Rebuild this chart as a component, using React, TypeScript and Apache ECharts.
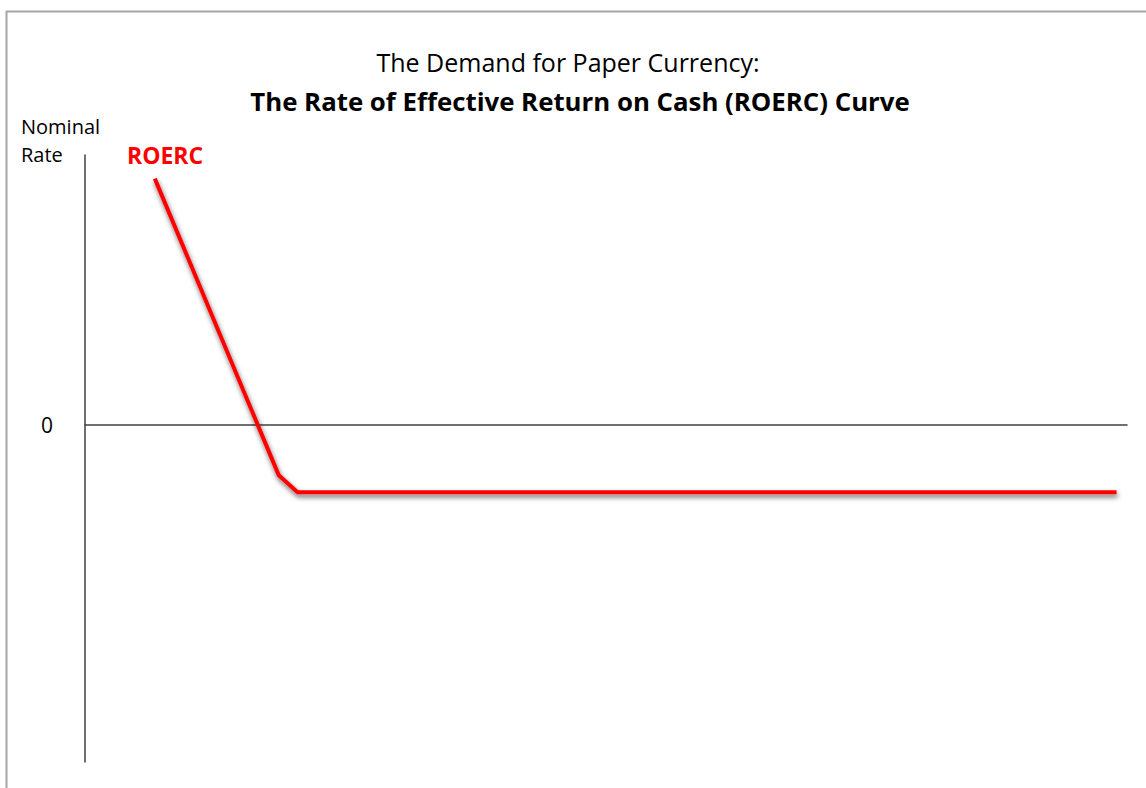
import React, { useEffect, useRef } from "react";
import * as echarts from "echarts";

const titleLine1 = "The Demand for Paper Currency:";
const titleLine2 = "The Rate of Effective Return on Cash (ROERC) Curve";
const seriesName = "ROERC";
const yAxisName = ["Nominal", "Rate"];
const roercX = [6.7, 18.6, 20.4, 99];
const roercY = [7.3, -1.5, -2, -2];
const yTickShown = [0];

export default function App() {
  const ref = useRef<HTMLDivElement>(null);
  useEffect(() => {
    document.body.style.margin = "0";
    const chart = echarts.init(ref.current!, null, { renderer: "svg" });
    const font = "'Open Sans', 'Liberation Sans', sans-serif";
    chart.setOption({
      animation: false,
      backgroundColor: "#ffffff",
      title: [
        {
          text: titleLine1,
          left: 563,
          textAlign: "center",
          top: 44,
          textStyle: { fontFamily: font, fontSize: 25, fontWeight: "normal", color: "#000" },
        },
        {
          text: titleLine2,
          left: 575,
          textAlign: "center",
          top: 83,
          textStyle: { fontFamily: font, fontSize: 25.8, fontWeight: "bold", color: "#000" },
        },
      ],
      grid: { left: 85, right: 19, top: 155, bottom: 26 },
      xAxis: {
        type: "value",
        min: 0,
        max: 100,
        axisLine: { show: true, onZero: true, lineStyle: { color: "#404040", width: 1.5 } },
        axisTick: { show: false },
        axisLabel: { show: false },
        splitLine: { show: false },
      },
      yAxis: {
        type: "value",
        min: -10,
        max: 8,
        interval: 2,
        axisLine: { show: true, onZero: false, lineStyle: { color: "#404040", width: 1.5 } },
        axisTick: { show: false },
        axisLabel: {
          margin: 32,
          fontFamily: font,
          fontSize: 21,
          color: "#000",
          formatter: (v: number) => (yTickShown.includes(v) ? String(v) : ""),
        },
        splitLine: { show: false },
      },
      graphic: [
        {
          type: "rect",
          shape: { x: 6.5, y: 11.5, width: 1200, height: 900 },
          style: { fill: "none", stroke: "#a6a6a6", lineWidth: 2 },
          silent: true,
        },
        {
          type: "text",
          left: 21,
          top: 112,
          style: {
            text: yAxisName.join("\n"),
            fontFamily: font,
            fontSize: 20,
            lineHeight: 28,
            fill: "#000",
          },
        },
        {
          type: "text",
          left: 127,
          top: 143,
          style: {
            text: seriesName,
            fontFamily: font,
            fontSize: 23,
            fontWeight: "bold",
            fill: "#ff0000",
          },
        },
      ],
      series: [
        {
          name: seriesName,
          type: "line",
          data: roercX.map((x, i) => [x, roercY[i]]),
          symbol: "none",
          lineStyle: {
            color: "#ff0000",
            width: 4,
            shadowColor: "rgba(0,0,0,0.6)",
            shadowBlur: 5,
            shadowOffsetX: 1,
            shadowOffsetY: 3,
          },
        },
      ],
    });
    return () => chart.dispose();
  }, []);
  return <div ref={ref} style={{ width: 1146, height: 788 }} />;
}
